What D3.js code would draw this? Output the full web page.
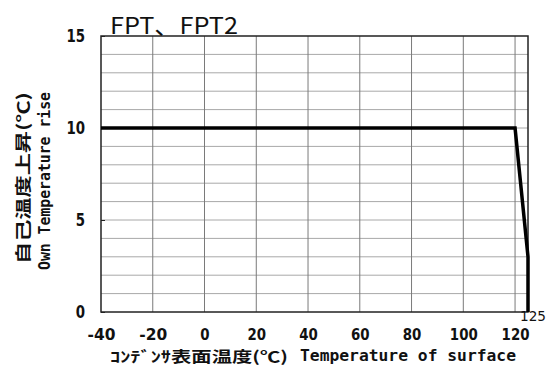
<!DOCTYPE html>
<html><head><meta charset="utf-8">
<script src="https://cdn.jsdelivr.net/npm/d3@7"></script>
<style>
html,body{margin:0;padding:0;background:#fff;}
svg{display:block;}
</style></head>
<body>
<script>
const titleText = "FPT、FPT2";
const xTicks = [-40, -20, 0, 20, 40, 60, 80, 100, 120];
const xEndLabel = [125];
const yTicks = [0, 5, 10, 15];
const yMinorGrid = [1,2,3,4,6,7,8,9,11,12,13,14];
const temps = [-40, 120, 125, 125];
const rise  = [10, 10, 3, 0];
const xTitleJa = "ｺﾝﾃﾞﾝｻ表面温度(℃)";
const xTitleEn = "Temperature of surface";
const yTitleJa = "自己温度上昇(℃)";
const yTitleEn = "Own Temperature rise";

const W = 548, H = 365;
const m = {left: 101, right: 20, top: 36, bottom: 53};
const svg = d3.select("body").append("svg").attr("width", W).attr("height", H);
const x = d3.scaleLinear().domain([-40, 125]).range([m.left, W - m.right]);
const y = d3.scaleLinear().domain([0, 15]).range([H - m.bottom, m.top]);
const fmt = d => String(d); // plain hyphen-minus as in the reference
const numFont = "'DejaVu Sans',sans-serif";

// horizontal grid
svg.append("g").selectAll("line").data(yMinorGrid.concat([5, 10])).join("line")
  .attr("x1", x(-40)).attr("x2", x(125))
  .attr("y1", d => y(d)).attr("y2", d => y(d))
  .attr("stroke", "#a8a8a8").attr("stroke-width", 1);
// vertical grid
svg.append("g").selectAll("line").data(xTicks.slice(1)).join("line")
  .attr("x1", d => x(d)).attr("x2", d => x(d))
  .attr("y1", y(0)).attr("y2", y(15))
  .attr("stroke", "#7a7a7a").attr("stroke-width", 1);

// frame
svg.append("rect").attr("x", x(-40)).attr("y", y(15))
  .attr("width", x(125) - x(-40)).attr("height", y(0) - y(15))
  .attr("fill", "none").attr("stroke", "#222").attr("stroke-width", 1.5);

// axes
const yAxis = svg.append("g").attr("transform", `translate(${x(-40)},0)`)
  .call(d3.axisLeft(y).tickValues(yTicks).tickSize(-4).tickPadding(16).tickFormat(fmt));
yAxis.select(".domain").remove();
yAxis.selectAll("line").attr("stroke", "#222");
yAxis.selectAll("text").attr("font-family", numFont).attr("font-weight", "bold")
  .attr("font-size", 17).attr("fill", "#111")
  .attr("textLength", function() { return this.textContent.length * 9.3; })
  .attr("lengthAdjust", "spacingAndGlyphs");

const xAxis = svg.append("g").attr("transform", `translate(0,${y(0)})`)
  .call(d3.axisBottom(x).tickValues(xTicks).tickSize(0).tickPadding(16).tickFormat(fmt));
xAxis.select(".domain").remove();
xAxis.selectAll("text").attr("font-family", numFont).attr("font-weight", "bold")
  .attr("font-size", 16).attr("fill", "#111")
  .attr("y", 27.5).attr("dy", null)
  .attr("textLength", function() { return this.textContent.length * 9.3; })
  .attr("lengthAdjust", "spacingAndGlyphs");

// 125 label
svg.selectAll(".end").data(xEndLabel).join("text").attr("class", "end")
  .attr("x", d => x(d) + 5).attr("y", y(0) + 8.5)
  .attr("text-anchor", "middle")
  .attr("font-family", numFont).attr("font-size", 14).attr("fill", "#111")
  .attr("textLength", 26).attr("lengthAdjust", "spacingAndGlyphs")
  .text(d => d);

// data line
const line = d3.line().x(d => x(d[0])).y(d => y(d[1]));
svg.append("path").datum(temps.map((t, i) => [t, rise[i]]))
  .attr("d", line).attr("fill", "none").attr("stroke", "#000")
  .attr("stroke-width", 3.5).attr("stroke-linejoin", "miter");

// title
svg.append("text").attr("x", 110).attr("y", 34)
  .attr("font-family", "'Noto Sans CJK JP','DejaVu Sans',sans-serif")
  .attr("font-size", 23).attr("fill", "#111")
  .attr("textLength", 128).attr("lengthAdjust", "spacingAndGlyphs")
  .text(titleText);

// x title
svg.append("text").attr("x", 110).attr("y", 362)
  .attr("font-family", "'Noto Sans CJK JP',sans-serif")
  .attr("font-weight", "bold").attr("font-size", 15).attr("fill", "#111")
  .attr("textLength", 178).attr("lengthAdjust", "spacingAndGlyphs")
  .text(xTitleJa);
svg.append("text").attr("x", 300).attr("y", 361)
  .attr("font-family", "'DejaVu Sans Mono','Liberation Mono',monospace")
  .attr("font-weight", "bold").attr("font-size", 15).attr("fill", "#111")
  .attr("textLength", 216).attr("lengthAdjust", "spacingAndGlyphs")
  .text(xTitleEn);

// y titles
svg.append("text").attr("transform", "translate(29,178) rotate(-90)")
  .attr("text-anchor", "middle")
  .attr("font-family", "'Noto Sans CJK JP',sans-serif")
  .attr("font-weight", "bold").attr("font-size", 16).attr("fill", "#111")
  .attr("textLength", 172).attr("lengthAdjust", "spacingAndGlyphs")
  .text(yTitleJa);
svg.append("text").attr("transform", "translate(50,181) rotate(-90)")
  .attr("text-anchor", "middle")
  .attr("font-family", "'DejaVu Sans Mono','Liberation Mono',monospace")
  .attr("font-weight", "bold").attr("font-size", 15).attr("fill", "#111")
  .attr("textLength", 178).attr("lengthAdjust", "spacingAndGlyphs")
  .text(yTitleEn);
</script>
</body></html>
